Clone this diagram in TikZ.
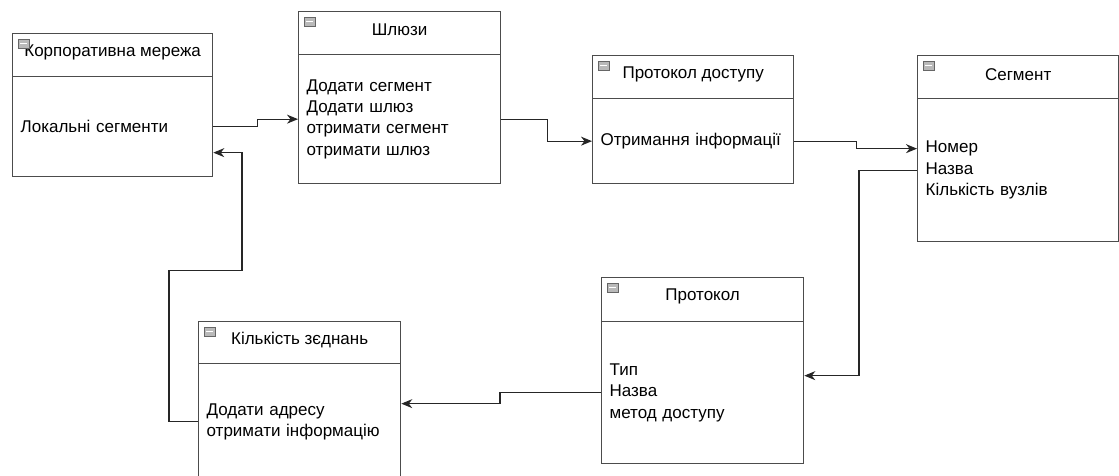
\documentclass[tikz,border=0pt]{standalone}
\usepackage{fontspec}
\setmainfont{Liberation Sans}
\usepackage{tikz}
\usetikzlibrary{arrows.meta, calc}

% small collapse icon in the corner of a class header
\newcommand{\minusicon}[1]{%
  \filldraw[fill=gray!55, draw=gray!80!black, line width=0.6pt] ($(#1.north west)+(6,6)$) rectangle +(11,9);
  \draw[white, line width=1.2pt] ($(#1.north west)+(8,10.5)$) -- +(7,0);
}

\begin{document}
\begin{tikzpicture}[
    x=1pt, y=-1pt,
    every node/.style={font=\fontsize{17pt}{21.3pt}\selectfont},
    head/.style={draw=black!70, line width=1.3pt, fill=white, anchor=north west, minimum width=#1, minimum height=43pt, inner sep=0pt},
    body/.style={draw=black!70, line width=1.3pt, fill=white, anchor=north west, inner xsep=8pt, inner ysep=0pt, text width=#1-16pt, align=left},
    conn/.style={-{Stealth[length=11pt, width=9pt, inset=3.5pt]}, line width=1.2pt, black!85},
]
\useasboundingbox (0,0) rectangle (1119,476);
\clip (0,0) rectangle (1119,476);

% Classes
\node[head=200pt] (mereja-h) at (12,33) {};
\node at ($(mereja-h.center)+(0,-3)$) {Корпоративна мережа};
\node[body=200pt, minimum height=100pt] (mereja) at (12,76) {Локальні сегменти};
\minusicon{mereja-h}

\node[head=202pt] (shlyuzy-h) at (298,11) {};
\node at ($(shlyuzy-h.center)+(0,-3)$) {Шлюзи};
\node[body=202pt, minimum height=129pt] (shlyuzy) at (298,54) {Додати сегмент\\Додати шлюз\\отримати сегмент\\отримати шлюз};
\minusicon{shlyuzy-h}

\node[head=201pt] (dostup-h) at (592,55) {};
\node at ($(dostup-h.center)+(0,-3)$) {Протокол доступу};
\node[body=201pt, minimum height=85pt] (dostup) at (592,98) {Отримання інформації};
\minusicon{dostup-h}

\node[head=201pt] (segment-h) at (917,55) {};
\node at ($(segment-h.center)+(0,-3)$) {Сегмент};
\node[body=201pt, minimum height=143pt] (segment) at (917,98) {Номер\\Назва\\Кількість вузлів};
\minusicon{segment-h}

\node[head=202pt, minimum height=44pt] (protokol-h) at (601,277) {};
\node at ($(protokol-h.center)+(0,-3)$) {Протокол};
\node[body=202pt, minimum height=142pt] (protokol) at (601,321) {Тип\\Назва\\метод доступу};
\minusicon{protokol-h}

\node[head=202pt, minimum height=42pt] (zyednannya-h) at (198,321) {};
\node at ($(zyednannya-h.center)+(0,-3)$) {Кількість зєднань};
\node[body=202pt, minimum height=116pt] (zyednannya) at (198,363) {Додати адресу\\отримати інформацію};
\minusicon{zyednannya-h}

% Connectors
\draw[conn] (mereja.east) -- ++(44,0) |- (shlyuzy.west);
\draw[conn] (shlyuzy.east) -- ++(46,0) |- (dostup.west);
\draw[conn] (dostup.east) -- ++(62,0) |- ([yshift=21.5pt]segment.west);
\draw[conn] (segment.west) -- ++(-58,0) |- ([yshift=17pt]protokol.east);
\draw[conn] (protokol.west) -- ++(-101,0) |- ([yshift=18pt]zyednannya.east);
\draw[conn] (zyednannya.west) -- ++(-29,0) -- ++(0,-151) -- ++(73,0) |- ([yshift=-26pt]mereja.east);

\end{tikzpicture}
\end{document}
